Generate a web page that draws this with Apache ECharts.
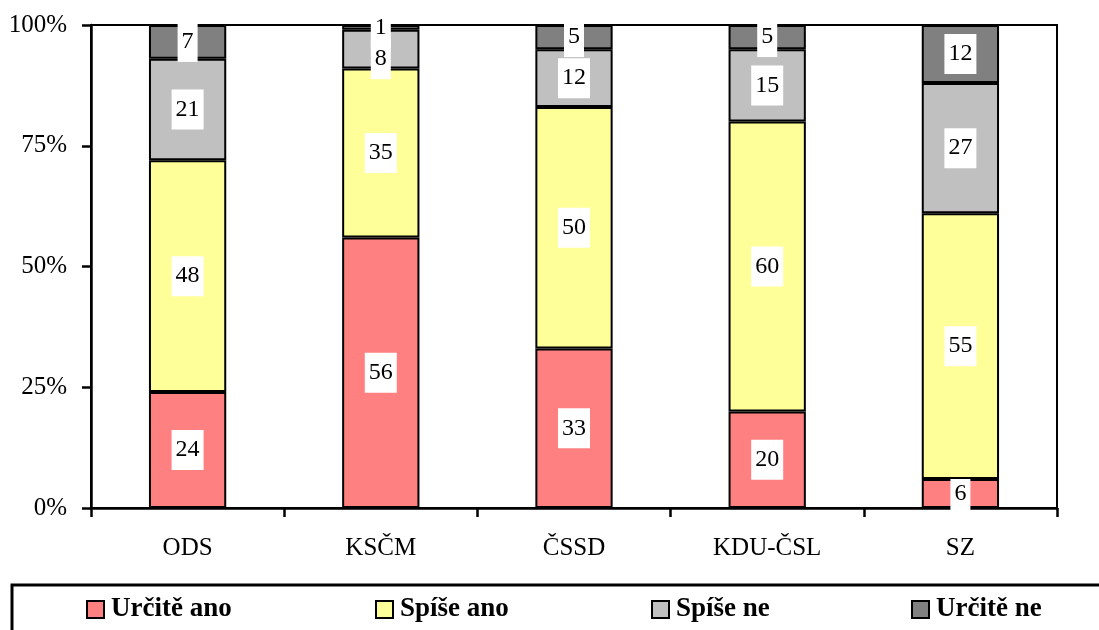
<!DOCTYPE html>
<html><head><meta charset="utf-8">
<script src="https://cdn.jsdelivr.net/npm/echarts@6/dist/echarts.min.js"></script>
<style>html,body{margin:0;padding:0;background:#fff}#c{width:1099px;height:630px}</style>
</head><body><div id="c"></div>
<script>
const categories = ['ODS','KSČM','ČSSD','KDU-ČSL','SZ'];
const seriesNames = ['Určitě ano','Spíše ano','Spíše ne','Určitě ne'];
const urciteAno = [24,56,33,20,6];
const spiseAno = [48,35,50,60,55];
const spiseNe = [21,8,12,15,27];
const urciteNe = [7,1,5,5,12];
const yTicks = [0,25,50,75,100];
const colors = ['#FF8080','#FFFF99','#C0C0C0','#808080'];
const values = [urciteAno, spiseAno, spiseNe, urciteNe];
const font = 'Liberation Serif, Times New Roman, serif';

const chart = echarts.init(document.getElementById('c'));
const legendLefts = [86, 375, 651, 911];
// small label nudges where segments are too thin (style only)
const labelOffsets = {'2-1':[0,10]};
chart.setOption({
  animation:false,
  textStyle:{fontFamily:font},
  grid:{left:91,right:42,top:25,bottom:122,show:true,borderColor:'#000',borderWidth:2,backgroundColor:'transparent'},
  xAxis:{type:'category',data:categories,
    axisLine:{lineStyle:{color:'#000',width:2.5}},
    axisTick:{show:true,length:9,lineStyle:{color:'#000',width:2.5}},
    axisLabel:{color:'#000',fontSize:25,fontFamily:font,margin:28}},
  yAxis:{type:'value',min:yTicks[0],max:yTicks[yTicks.length-1],interval:25,
    axisLine:{show:true,lineStyle:{color:'#000',width:2.5}},
    axisTick:{show:true,length:9,lineStyle:{color:'#000',width:2.5}},
    splitLine:{show:false},
    axisLabel:{color:'#000',fontSize:25,fontFamily:font,margin:24,formatter:'{value}%'}},
  legend: seriesNames.map((n,i)=>({
    data:[n], left:legendLefts[i], top:596, padding:0, itemWidth:17, itemHeight:17, itemGap:4,
    icon:'rect',
    itemStyle:{borderColor:'#000',borderWidth:2},
    textStyle:{color:'#000',fontSize:27,fontWeight:'bold',fontFamily:font,padding:[0,0,0,2]}
  })),
  graphic:[{type:'rect',shape:{x:12,y:585,width:1100,height:60},
    style:{fill:'none',stroke:'#000',lineWidth:3},silent:true}],
  series: seriesNames.map((n,i)=>({
    name:n,type:'bar',stack:'total',barWidth:'40%',
    data:values[i].map((v,j)=>{
      const off = labelOffsets[i+'-'+j];
      return off ? {value:v,label:{offset:off}} : v;
    }),
    z: 2+i,
    itemStyle:{color:colors[i],borderColor:'#000',borderWidth:2},
    label:{show:true,position:'inside',color:'#000',fontSize:24,fontFamily:font,
      backgroundColor:'#fff',padding:[8,4,8,4]}
  }))
});
</script></body></html>
